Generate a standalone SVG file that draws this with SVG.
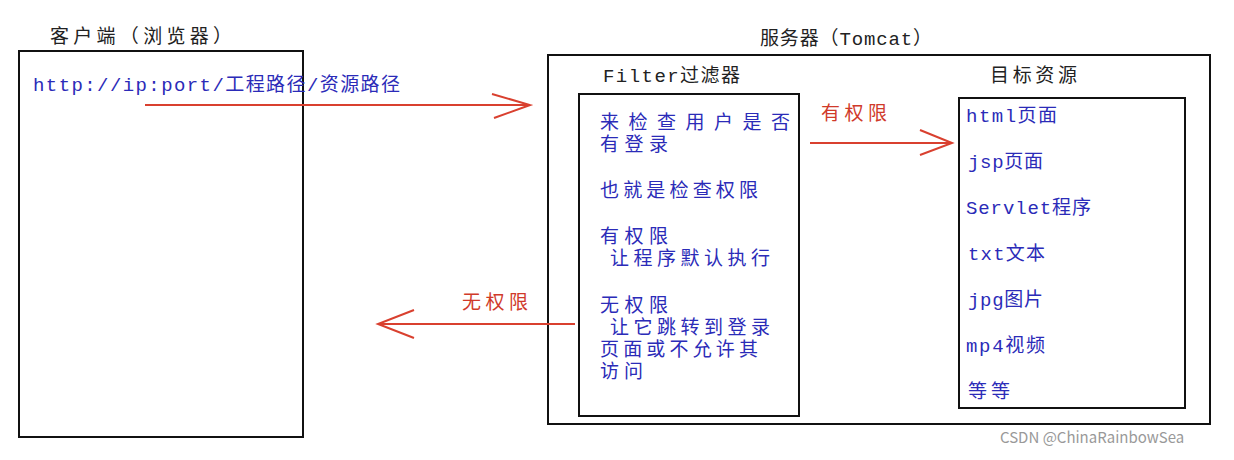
<svg xmlns="http://www.w3.org/2000/svg" width="1234" height="460" viewBox="0 0 1234 460">
<style>
.box{fill:none;stroke:#111;stroke-width:2}
.t{font-family:"Liberation Mono","Noto Sans CJK SC",monospace;font-size:19px}
.b{fill:#2b2bb8}
.k{fill:#222}
.r{fill:#d03a2a}
.ln{stroke:#d9402f;stroke-width:2;fill:none}
</style>
<rect width="1234" height="460" fill="#fff"/>
<g id="client">
<rect class="box" x="19" y="51" width="284" height="386"/>
<text class="t k" x="50" y="43" textLength="182" lengthAdjust="spacing">客户端（浏览器）</text>
<text class="t b" x="33" y="91" textLength="367" lengthAdjust="spacing">http://ip:port/工程路径/资源路径</text>
</g>
<g id="server">
<rect class="box" x="548" y="55" width="662" height="369"/>
<text class="t k" x="760" y="45" textLength="172" lengthAdjust="spacing">服务器（Tomcat）</text>
</g>
<g id="filter">
<rect class="box" x="579" y="94" width="220" height="322"/>
<text class="t k" x="603" y="82" textLength="137" lengthAdjust="spacing">Filter过滤器</text>
<text class="t b" x="600" y="129" textLength="190" lengthAdjust="spacing">来检查用户是否</text>
<text class="t b" x="600" y="151" textLength="68" lengthAdjust="spacing">有登录</text>
<text class="t b" x="600" y="197" textLength="158" lengthAdjust="spacing">也就是检查权限</text>
<text class="t b" x="600" y="243" textLength="68" lengthAdjust="spacing">有权限</text>
<text class="t b" x="610" y="265" textLength="160" lengthAdjust="spacing">让程序默认执行</text>
<text class="t b" x="600" y="312" textLength="68" lengthAdjust="spacing">无权限</text>
<text class="t b" x="610" y="334" textLength="160" lengthAdjust="spacing">让它跳转到登录</text>
<text class="t b" x="600" y="356" textLength="158" lengthAdjust="spacing">页面或不允许其</text>
<text class="t b" x="600" y="378" textLength="43" lengthAdjust="spacing">访问</text>
</g>
<g id="target">
<rect class="box" x="959" y="98" width="226" height="310"/>
<text class="t k" x="990" y="82" textLength="87" lengthAdjust="spacing">目标资源</text>
<text class="t b" x="966" y="122" textLength="91" lengthAdjust="spacing">html页面</text>
<text class="t b" x="968" y="168" textLength="75" lengthAdjust="spacing">jsp页面</text>
<text class="t b" x="966" y="214" textLength="125" lengthAdjust="spacing">Servlet程序</text>
<text class="t b" x="968" y="260" textLength="77" lengthAdjust="spacing">txt文本</text>
<text class="t b" x="968" y="306" textLength="75" lengthAdjust="spacing">jpg图片</text>
<text class="t b" x="966" y="352" textLength="79" lengthAdjust="spacing">mp4视频</text>
<text class="t b" x="968" y="398" textLength="42" lengthAdjust="spacing">等等</text>
</g>
<g id="connectors">
<path class="ln" d="M145 105H530M492 94L530 105L494 118"/>
<path class="ln" d="M810 143H952M920 130L952 143L920 155"/>
<text class="t r" x="821" y="120" textLength="66" lengthAdjust="spacing">有权限</text>
<path class="ln" d="M575 324H378M414 310L378 324L414 338"/>
<text class="t r" x="462" y="309" textLength="66" lengthAdjust="spacing">无权限</text>
</g>
<text x="1000" y="443" font-family="Noto Sans CJK SC,sans-serif" font-size="15" fill="#999">CSDN @ChinaRainbowSea</text>
</svg>
